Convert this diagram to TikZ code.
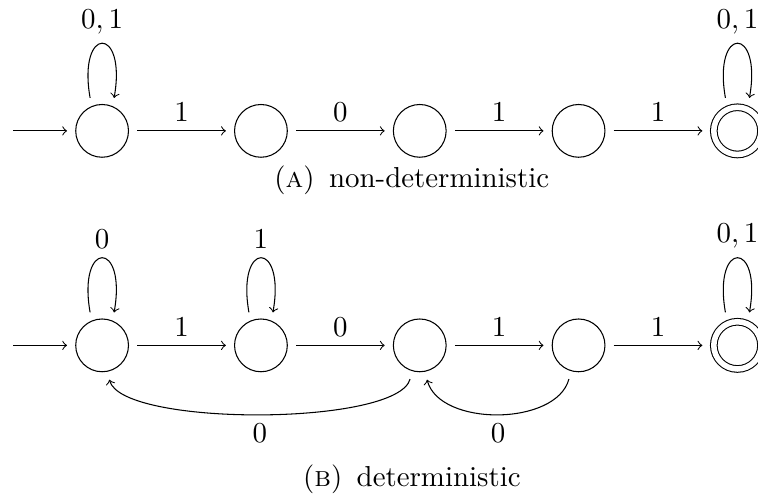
\documentclass[tikz,border=0pt]{standalone}
\usetikzlibrary{positioning}

\begin{document}
\begin{tikzpicture}[>=to, font=\fontsize{10.95pt}{13.6pt}\selectfont,
    dfastate/.style={draw, circle, minimum size=20pt, inner sep=0pt, outer sep=3.3pt},
    finalstate/.style={dfastate, double, double distance=2.1pt, minimum size=17.9pt, outer sep=4.35pt},
    trans/.style={->},
    node distance=33.6pt]
  \useasboundingbox (-38.7pt,49.6pt) rectangle (248.6pt,-141.4pt);

  % (a) non-deterministic
  \node[dfastate] (a1) at (0,0) {};
  \node[dfastate, right=of a1] (a2) {};
  \node[dfastate, right=of a2] (a3) {};
  \node[dfastate, right=of a3] (a4) {};
  \node[finalstate, right=of a4] (a5) {};
  \coordinate (ina) at (-33.7pt,0);

  \draw[trans] (ina) -- (a1);
  \draw[trans] (a1) -- node[above] {$1$} (a2);
  \draw[trans] (a2) -- node[above] {$0$} (a3);
  \draw[trans] (a3) -- node[above] {$1$} (a4);
  \draw[trans] (a4) -- node[above] {$1$} (a5);
  \draw[trans] (a1.110) .. controls +(100:28pt) and +(80:28pt) .. node[above] {$0,1$} (a1.70);
  \draw[trans] (a5.110) .. controls +(100:28pt) and +(80:28pt) .. node[above] {$0,1$} (a5.70);

  \node[anchor=base, xshift=-3pt, yshift=-21.6pt] (capa) at (a3) {(\textsc{a})\enspace non-deterministic};

  % (b) deterministic
  \node[dfastate] (b1) at (0,-81.3pt) {};
  \node[dfastate, right=of b1] (b2) {};
  \node[dfastate, right=of b2] (b3) {};
  \node[dfastate, right=of b3] (b4) {};
  \node[finalstate, right=of b4] (b5) {};
  \coordinate (inb) at (-33.7pt,-81.3pt);

  \draw[trans] (inb) -- (b1);
  \draw[trans] (b1) -- node[above] {$1$} (b2);
  \draw[trans] (b2) -- node[above] {$0$} (b3);
  \draw[trans] (b3) -- node[above] {$1$} (b4);
  \draw[trans] (b4) -- node[above] {$1$} (b5);
  \draw[trans] (b1.110) .. controls +(100:28pt) and +(80:28pt) .. node[above] {$0$} (b1.70);
  \draw[trans] (b2.110) .. controls +(100:28pt) and +(80:28pt) .. node[above] {$1$} (b2.70);
  \draw[trans] (b5.110) .. controls +(100:28pt) and +(80:28pt) .. node[above] {$0,1$} (b5.70);
  \draw[trans] (b3.-106) .. controls +(-105:18.5pt) and +(-75:18.5pt) .. node[below] {$0$} (b1.-78);
  \draw[trans] (b4.-106) .. controls +(-105:18.5pt) and +(-75:18.5pt) .. node[below] {$0$} (b3.-78);

  \node[anchor=base, xshift=-3pt, yshift=-53.6pt] (capb) at (b3) {(\textsc{b})\enspace deterministic};
\end{tikzpicture}
\end{document}
